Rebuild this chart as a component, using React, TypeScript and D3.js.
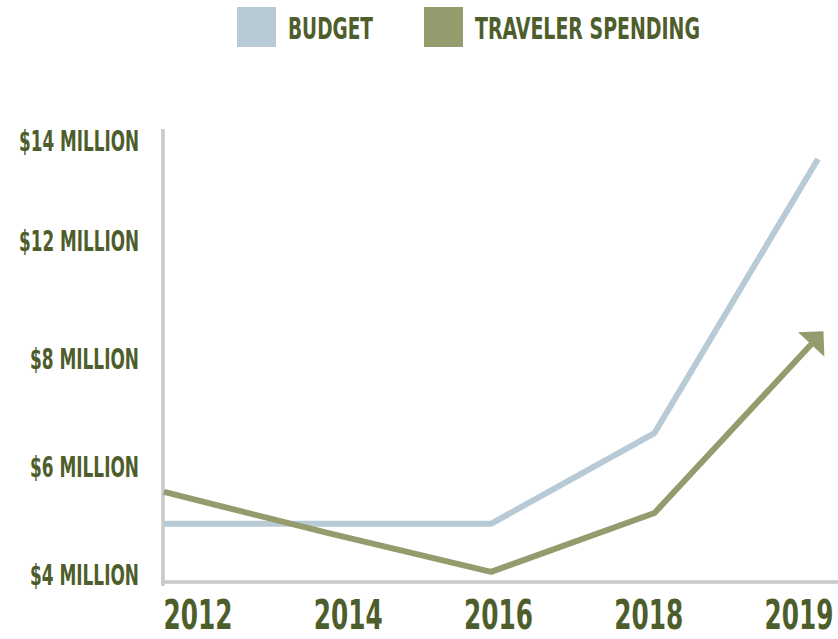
import React from "react";
import * as d3 from "d3";

const years = ["2012", "2014", "2016", "2018", "2019"];
const budget = [4.93, 4.93, 4.93, 6.61, 13.62];
const traveler = [5.52, 4.76, 4.04, 5.13, 8.71];
const yTicks = [4, 6, 8, 12, 14];
const yTickLabels = ["$4 MILLION", "$6 MILLION", "$8 MILLION", "$12 MILLION", "$14 MILLION"];
const seriesNames = ["BUDGET", "TRAVELER SPENDING"];
const seriesColors = ["#b7cad5", "#959b6d"];

const W = 838;
const H = 639;
const TEXT = "#4d5e2c";
const AXIS = "#c9c9c9";
const FONT = "'DejaVu Sans Condensed', 'Liberation Sans Narrow', 'Roboto', sans-serif";

// approximate rendered width per character (px) for the condensed display face
const yLabelCharW = 10.9;
const xLabelW = 69;

export default function App() {
  const x = d3.scalePoint<string>().domain(years).range([164, 818]);
  const xLabel = d3.scalePoint<string>().domain(years).range([198, 799]);
  // piecewise (infographic) scale matching the tick placement
  const y = d3.scaleLinear().domain([4, 6, 8, 12, 14]).range([574, 466, 358, 240, 140]);

  const line = d3
    .line<number>()
    .x((_, i) => x(years[i]) as number)
    .y((d) => y(d));

  const series = [budget, traveler];
  const legendX = [237, 424];
  const legendW = [85, 225];

  return (
    <svg width={W} height={H} style={{ position: "absolute", left: 0, top: 0, background: "#fff" }}>
      <defs>
        <marker
          id="arrow"
          markerUnits="userSpaceOnUse"
          viewBox="-20 -20 40 40"
          markerWidth={40}
          markerHeight={40}
          refX={0}
          refY={0}
          orient="auto"
        >
          <path d="M8,0 L-10,-18 L-10,18 Z" fill={seriesColors[1]} />
        </marker>
      </defs>

      {/* legend */}
      {seriesNames.map((name, i) => (
        <g key={name}>
          <rect x={legendX[i]} y={7} width={39} height={40} fill={seriesColors[i]} />
          <text
            x={legendX[i] + 51}
            y={39}
            textLength={legendW[i]}
            lengthAdjust="spacingAndGlyphs"
            fill={TEXT}
            fontFamily={FONT}
            fontWeight="bold"
            fontSize={30}
          >
            {name}
          </text>
        </g>
      ))}

      {/* axes */}
      <line x1={163} x2={163} y1={129} y2={586} stroke={AXIS} strokeWidth={3.5} />
      <line x1={161} x2={838} y1={582} y2={582} stroke={AXIS} strokeWidth={3.5} />

      {/* y labels */}
      {yTicks.map((t, i) => (
        <text
          key={t}
          x={139}
          y={y(t) + 10.5}
          textAnchor="end"
          textLength={yTickLabels[i].length * yLabelCharW}
          lengthAdjust="spacingAndGlyphs"
          fill={TEXT}
          fontFamily={FONT}
          fontWeight="bold"
          fontSize={29}
        >
          {yTickLabels[i]}
        </text>
      ))}

      {/* x labels */}
      {years.map((yr, i) => {
        const last = i === years.length - 1;
        const cx = xLabel(yr) as number;
        return (
          <text
            key={yr}
            x={last ? cx + xLabelW / 2 : cx}
            y={629}
            textAnchor={last ? "end" : "middle"}
            textLength={xLabelW}
            lengthAdjust="spacingAndGlyphs"
            fill={TEXT}
            fontFamily={FONT}
            fontWeight="bold"
            fontSize={40}
          >
            {yr}
          </text>
        );
      })}

      {/* lines */}
      {series.map((s, i) => (
        <path
          key={i}
          d={line(s) as string}
          fill="none"
          stroke={seriesColors[i]}
          strokeWidth={6}
          strokeLinejoin="round"
          markerEnd={i === 1 ? "url(#arrow)" : undefined}
        />
      ))}
    </svg>
  );
}
